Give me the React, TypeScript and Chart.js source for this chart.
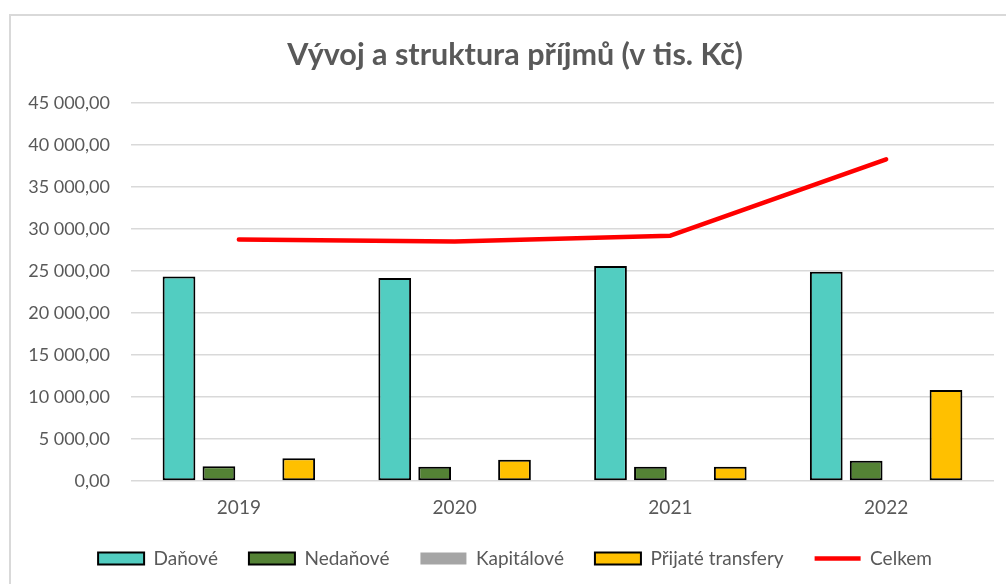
import React, { useEffect, useRef } from "react";
import { Chart, registerables } from "chart.js";

Chart.register(...registerables);

const categories = ["2019", "2020", "2021", "2022"];
const danove = [24340, 24160, 25600, 24900];
const nedanove = [1750, 1700, 1700, 2420];
const kapitalove = [0, 0, 0, 0];
const prijateTransfery = [2710, 2540, 1700, 10830];
const celkem = [28760, 28500, 29200, 38300];
const yMin = 0;
const yMax = 45000;
const yStep = 5000;

const FONT = "Lato";
const TEXT = "#595959";

function fmt(v: number): string {
  const [i, d] = v.toFixed(2).split(".");
  return i.replace(/\B(?=(\d{3})+(?!\d))/g, "\u00a0") + "," + d;
}

export default function App() {
  const ref = useRef<HTMLCanvasElement | null>(null);

  useEffect(() => {
    if (!ref.current) return;
    const barCommon = {
      type: "bar" as const,
      borderColor: "#000000",
      borderWidth: 2,
      borderSkipped: false as const,
      pointStyle: "rect" as const,
      categoryPercentage: 0.74,
      barPercentage: 0.82,
    };
    const chart = new Chart(ref.current, {
      type: "bar",
      data: {
        labels: categories,
        datasets: [
          { ...barCommon, label: "Daňové", data: danove, backgroundColor: "#52CDC1" },
          { ...barCommon, label: "Nedaňové", data: nedanove, backgroundColor: "#548235" },
          { ...barCommon, label: "Kapitálové", data: kapitalove, backgroundColor: "#A5A5A5", borderWidth: 0 },
          { ...barCommon, label: "Přijaté transfery", data: prijateTransfery, backgroundColor: "#FFC000" },
          {
            type: "line" as const,
            label: "Celkem",
            data: celkem,
            borderColor: "#FF0000",
            backgroundColor: "#FF0000",
            borderWidth: 4.5,
            borderCapStyle: "round" as const,
            borderJoinStyle: "round" as const,
            pointRadius: 0,
            pointHoverRadius: 0,
            pointStyle: "line" as const,
            tension: 0,
            fill: false,
          } as any,
        ],
      },
      options: {
        responsive: false,
        animation: false,
        devicePixelRatio: 1,
        layout: { padding: { left: 0, right: 0, top: 0, bottom: 6 } },
        plugins: {
          tooltip: { enabled: false },
          title: {
            display: true,
            text: "Vývoj a struktura příjmů (v tis. Kč)",
            color: TEXT,
            font: { family: FONT, size: 30.5, weight: "bold" },
            padding: { top: 37, bottom: 29.4 },
          },
          legend: {
            position: "bottom",
            labels: {
              usePointStyle: true,
              pointStyleWidth: 46,
              boxHeight: 12,
              padding: 31,
              color: TEXT,
              font: { family: FONT, size: 19 },
            },
          },
        },
        scales: {
          x: {
            grid: { display: false, drawTicks: false },
            border: { display: false },
            ticks: { color: TEXT, font: { family: FONT, size: 19 }, padding: 15.5 },
            afterFit: (s: any) => {
              s.height = 37;
            },
          },
          y: {
            min: yMin,
            max: yMax,
            ticks: {
              stepSize: yStep,
              color: TEXT,
              font: { family: FONT, size: 18 },
              padding: 21,
              callback: (v: any) => fmt(Number(v)),
            },
            grid: { color: "#D9D9D9", lineWidth: 1.5, drawTicks: false },
            border: { display: false },
            afterFit: (s: any) => {
              s.width = 131;
            },
          },
          yRight: {
            position: "right",
            display: true,
            grid: { display: false, drawTicks: false },
            border: { display: false },
            ticks: { display: false },
            afterFit: (s: any) => {
              s.width = 36;
            },
          },
        },
      },
    });
    return () => chart.destroy();
  }, []);

  return (
    <div
      style={{
        position: "fixed",
        left: 0,
        top: 0,
        width: 1006,
        height: 584,
        overflow: "hidden",
        background: "#ffffff",
      }}
    >
      <div
        style={{
          position: "absolute",
          left: 9,
          top: 14,
          width: 1200,
          height: 800,
          border: "2px solid #D9D9D9",
          background: "#ffffff",
        }}
      />
      <canvas
        ref={ref}
        width={1030}
        height={584}
        style={{ position: "absolute", left: 0, top: 0, width: 1030, height: 584 }}
      />
    </div>
  );
}
